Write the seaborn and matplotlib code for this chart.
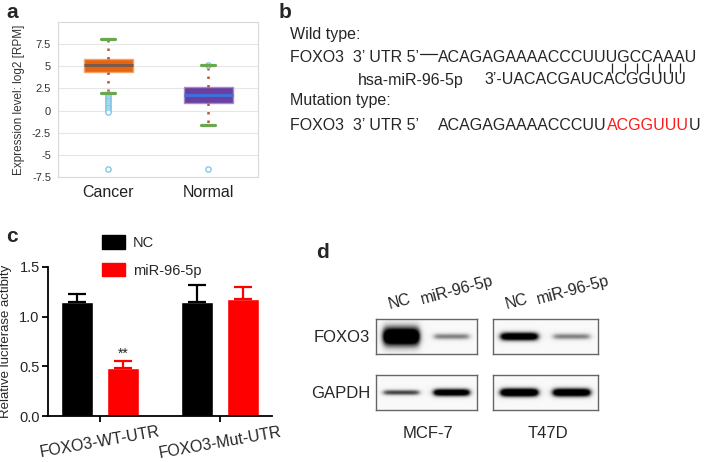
import numpy as np
import pandas as pd
import matplotlib
matplotlib.use("Agg")
import matplotlib.pyplot as plt
import seaborn as sns
from matplotlib.patches import Patch
from matplotlib.font_manager import FontProperties

# ---------------- data ----------------
# panel a : box summaries (log2 RPM)
a_groups = ["Cancer", "Normal"]
a_q1 = [4.3, 0.9]
a_med = [5.1, 1.8]
a_q3 = [5.87, 2.68]
a_whislo = [2.0, -1.65]
a_whishi = [8.05, 5.18]
a_fliers_cancer = [1.85, 1.65, 1.45, 1.25, 1.05, 0.85, 0.65, 0.45, 0.25, 0.05, -0.15, -6.55]
a_fliers_normal = [5.2, -6.55]
a_yticks = [-7.5, -5, -2.5, 0, 2.5, 5, 7.5]
a_yticklabels = ["-7.5", "-5", "-2.5", "0", "2.5", "5", "7.5"]

# panel b : sequences
b_utr_wt = "ACAGAGAAAACCCUUUGCCAAAU"
b_mir = "3\u2019-UACACGAUCACGGUUU"
b_mut_head = "ACAGAGAAAACCCUU"
b_mut_red = "ACGGUUU"
b_mut_tail = "U"
b_pair_idx = [15, 16, 17, 18, 19, 20, 21]

# panel c : luciferase
c_groups = ["FOXO3-WT-UTR", "FOXO3-Mut-UTR"]
c_treat = ["NC", "miR-96-5p"]
c_mean_nc = [1.15, 1.145]
c_mean_mir = [0.483, 1.175]
c_err_nc = [0.075, 0.17]
c_err_mir = [0.068, 0.125]
c_yticks = [0.0, 0.5, 1.0, 1.5]

# panel d : western blot band intensities / spreads
d_lanes = ["NC", "miR-96-5p"]
d_cells = ["MCF-7", "T47D"]
d_rows = ["FOXO3", "GAPDH"]
d_foxo3_mcf7 = [1.0, 0.35]
d_gapdh_mcf7 = [0.5, 0.85]
d_foxo3_t47d = [0.85, 0.35]
d_gapdh_t47d = [0.95, 0.9]
d_spread_foxo3_mcf7 = [0.2, 0.07]
d_spread_gapdh_mcf7 = [0.06, 0.08]
d_spread_foxo3_t47d = [0.09, 0.07]
d_spread_gapdh_t47d = [0.09, 0.09]

# ---------------- setup ----------------
sns.set_theme(style="white")
plt.rcParams["font.family"] = ["Liberation Sans", "DejaVu Sans"]

W, H = 709, 462
fig = plt.figure(figsize=(W / 100, H / 100), dpi=100)


def px_axes(x0, y0, x1, y1):
    return fig.add_axes([x0 / W, 1 - y1 / H, (x1 - x0) / W, (y1 - y0) / H])


# ---------------- panel a ----------------
axa = px_axes(58, 22, 258, 177)
stats = []
for i, g in enumerate(a_groups):
    stats.append(dict(label=g, q1=a_q1[i], med=a_med[i], q3=a_q3[i],
                      whislo=a_whislo[i], whishi=a_whishi[i],
                      fliers=[a_fliers_cancer, a_fliers_normal][i]))
bp = axa.bxp(stats, positions=[0, 1], widths=0.49, capwidths=0.14,
             patch_artist=True, showfliers=True, manage_ticks=False,
             whiskerprops=dict(color="#b5573b", linestyle=(0, (1, 2.4)), linewidth=1.8),
             capprops=dict(color="#6aa84f", linewidth=2.3),
             medianprops=dict(linewidth=2.2),
             flierprops=dict(marker="o", markerfacecolor="white",
                             markeredgecolor="#86c8e6", markersize=3.8,
                             markeredgewidth=1.0))
box_face = ["#e8650f", "#6a3fa0"]
box_edge = ["#f3a36a", "#a48ad0"]
med_col = ["#7b5a4a", "#3f6fd8"]
for b, fc, ec in zip(bp["boxes"], box_face, box_edge):
    b.set_facecolor(fc)
    b.set_edgecolor(ec)
    b.set_linewidth(1.0)
for m, mc in zip(bp["medians"], med_col):
    m.set_color(mc)
for c in bp["caps"]:
    c.set_zorder(4)
axa.set_xlim(-0.5, 1.5)
axa.set_ylim(-7.5, 10)
axa.set_yticks(a_yticks, a_yticklabels, fontsize=8, color="#333333")
axa.set_xticks([0, 1], a_groups, fontsize=11.5, color="#222222")
axa.tick_params(length=0, pad=5)
axa.tick_params(axis="x", pad=6)
axa.yaxis.grid(True, color="#e6e6e6", linewidth=0.8)
axa.set_axisbelow(True)
for s in axa.spines.values():
    s.set_color("#d9d9d9")
    s.set_linewidth(0.8)
axa.set_ylabel("Expression level: log2 [RPM]", fontsize=8.5, color="#333333", labelpad=5)

# ---------------- panel c ----------------
axc = px_axes(48, 267, 272, 416)
rows = []
for g, nc, mr in zip(c_groups, c_mean_nc, c_mean_mir):
    rows.append((g, c_treat[0], nc))
    rows.append((g, c_treat[1], mr))
df = pd.DataFrame(rows, columns=["group", "treat", "value"])
pal = ["#000000", "#ff0000"]
sns.barplot(data=df, x="group", y="value", hue="treat", order=c_groups,
            hue_order=c_treat, palette=pal, width=0.76, gap=0.3,
            errorbar=None, saturation=1, legend=False, ax=axc)
for p in list(axc.patches):
    xc = p.get_x() + p.get_width() / 2
    h = p.get_height()
    gi = int(round(xc))
    hi = 0 if xc < gi else 1
    err = [c_err_nc, c_err_mir][hi][gi]
    axc.errorbar([xc], [h], yerr=[[0], [err]], fmt="none", ecolor=pal[hi],
                 elinewidth=1.6, capsize=6.5, capthick=1.6, zorder=3)
    if hi == 1 and gi == 0:
        axc.annotate("**", (xc, h + err), xytext=(0, 0), textcoords="offset points",
                     ha="center", va="bottom", fontsize=10)
axc.set_xlim(-0.433, 1.433)
axc.set_ylim(0, 1.5)
axc.set_yticks(c_yticks, [f"{v:.1f}" for v in c_yticks], fontsize=10.5)
axc.set_xticks([0, 1], c_groups, fontsize=11.5, rotation=10, ha="center")
axc.set_xlabel("")
axc.set_ylabel("Relative luciferase actibity", fontsize=9.5, labelpad=5)
for s in ["top", "right"]:
    axc.spines[s].set_visible(False)
for s in ["left", "bottom"]:
    axc.spines[s].set_color("black")
    axc.spines[s].set_linewidth(1.3)
axc.tick_params(axis="both", direction="out", length=4, width=1.3, color="black",
                left=True, bottom=True, pad=2)
axc.legend(handles=[Patch(color=pal[0]), Patch(color=pal[1])], labels=c_treat,
           loc="upper left", bbox_to_anchor=(102 / W, 1 - 235 / H),
           bbox_transform=fig.transFigure, frameon=False, fontsize=10.5,
           handlelength=1.6, handleheight=1.05, handletextpad=0.5,
           labelspacing=0.9, borderpad=0, borderaxespad=0)

# ---------------- panel d ----------------
def blot(ax, intens, spreads, centers=(0.25, 0.75), halfw=0.18):
    nx, ny = 240, 80
    x = np.linspace(0, 1, nx)
    y = np.linspace(0, 1, ny)
    X, Y = np.meshgrid(x, y)
    img = np.full_like(X, 0.05)
    for c, a, sg in zip(centers, intens, spreads):
        pxp = 1 / (1 + np.exp(-(X - (c - halfw)) / 0.018)) * 1 / (1 + np.exp((X - (c + halfw)) / 0.018))
        pyp = np.exp(-0.5 * ((Y - 0.5) / sg) ** 2)
        img += 1.5 * a * pxp * pyp
    ax.imshow(np.clip(img, 0, 1), cmap="Greys", vmin=0, vmax=1, aspect="auto",
              extent=(0, 1, 0, 1), interpolation="bilinear")
    ax.set_xticks([])
    ax.set_yticks([])
    for s in ax.spines.values():
        s.set_color("#666666")
        s.set_linewidth(1.0)
        s.set_visible(True)


blot(px_axes(376, 319, 477, 354), d_foxo3_mcf7, d_spread_foxo3_mcf7)
blot(px_axes(376, 375, 477, 410), d_gapdh_mcf7, d_spread_gapdh_mcf7)
blot(px_axes(493, 319, 598, 354), d_foxo3_t47d, d_spread_foxo3_t47d)
blot(px_axes(493, 375, 598, 410), d_gapdh_t47d, d_spread_gapdh_t47d)

# ---------------- overlay (text) ----------------
ov = fig.add_axes([0, 0, 1, 1], zorder=10)
ov.set_xlim(0, W)
ov.set_ylim(H, 0)
ov.axis("off")
ov.patch.set_alpha(0)

for lab, (x, y) in zip("abcd", [(6, 12), (279, 12), (6, 237), (316, 252)]):
    ov.text(x, y, lab, fontsize=15, fontweight="bold", ha="left", va="center")

# panel b
fs = 11.5
fp = FontProperties(family=["Liberation Sans"], size=fs)
renderer = fig.canvas.get_renderer()


def tw(s):
    return renderer.get_text_width_height_descent(s, fp, ismath=False)[0]


xb = 290
xseq = 438
y_wt, y_mir, y_mut = 57, 80, 125
ov.text(xb, 34, "Wild type:", fontsize=fs, va="center")
ov.text(xb, y_wt, "FOXO3  3\u2019 UTR 5\u2019", fontsize=fs, va="center")
ov.plot([xb + tw("FOXO3  3\u2019 UTR 5\u2019") + 1, xseq - 1], [y_wt - 3, y_wt - 3],
        color="#222222", lw=0.9)
ov.text(xseq, y_wt, b_utr_wt, fontsize=fs, va="center")
centers = [xseq + tw(b_utr_wt[:k]) + tw(b_utr_wt[k]) / 2 for k in b_pair_idx]
ov.vlines(centers, y_wt + 6, y_mir - 7, color="#222222", lw=0.9)
# miR line: its 3' end pairs under the UTR (last U under the last paired A)
mir_start = centers[-1] - (tw(b_mir[:-1]) + tw(b_mir[-1]) / 2)
ov.text(mir_start, y_mir, b_mir, fontsize=fs, va="center")
ov.text(358, y_mir, "hsa-miR-96-5p", fontsize=fs, va="center")
ov.text(xb, 101, "Mutation type:", fontsize=fs, va="center")
ov.text(xb, y_mut, "FOXO3  3\u2019 UTR 5\u2019", fontsize=fs, va="center")
ov.text(xseq, y_mut, b_mut_head, fontsize=fs, va="center")
x2 = xseq + tw(b_mut_head)
ov.text(x2, y_mut, b_mut_red, fontsize=fs, va="center", color="#ff1a1a")
ov.text(x2 + tw(b_mut_red), y_mut, b_mut_tail, fontsize=fs, va="center")

# panel d labels
for lab, y in zip(d_rows, [337, 393]):
    ov.text(370, y, lab, fontsize=12, ha="right", va="center")
for cell, x in zip(d_cells, [428, 548]):
    ov.text(x, 433, cell, fontsize=12, ha="center", va="center")
for (xn, xm) in [(400, 457), (517, 573)]:
    ov.text(xn, 302, d_lanes[0], fontsize=11.5, ha="center", va="center", rotation=15)
    ov.text(xm, 290, d_lanes[1], fontsize=11.5, ha="center", va="center", rotation=15)

fig.savefig("out.png", dpi=100)
